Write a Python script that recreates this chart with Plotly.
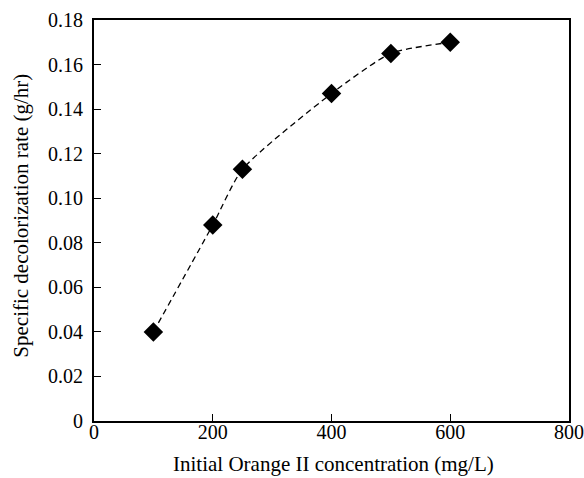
import plotly.graph_objects as go

concentration = [100, 200, 250, 400, 500, 600]
rate = [0.040, 0.088, 0.113, 0.147, 0.165, 0.170]

x_ticks = [0, 200, 400, 600, 800]
y_ticks = [0, 0.02, 0.04, 0.06, 0.08, 0.10, 0.12, 0.14, 0.16, 0.18]
y_ticktext = ["0", "0.02", "0.04", "0.06", "0.08", "0.10", "0.12", "0.14", "0.16", "0.18"]

x_title = "Initial Orange II concentration (mg/L)"
y_title = "Specific decolorization rate (g/hr)"

font_family = "Liberation Serif, Times New Roman, serif"

fig = go.Figure()
fig.add_trace(go.Scatter(
    x=concentration, y=rate, mode="lines+markers",
    line=dict(color="black", width=1.3, dash="6px,4px", shape="spline", smoothing=0.6),
    marker=dict(symbol="diamond", size=15, color="black"),
    showlegend=False,
))

axis_common = dict(
    showgrid=False, zeroline=False, showline=True, linecolor="black", linewidth=2,
    mirror=True, ticks="inside", ticklen=7, tickwidth=1, tickcolor="black",
    automargin=False,
    tickfont=dict(family=font_family, size=20, color="black"),
)

fig.update_layout(
    template="none",
    width=584, height=478,
    margin=dict(l=94, r=15, t=20, b=57),
    paper_bgcolor="white", plot_bgcolor="white",
    font=dict(family=font_family, color="black"),
    xaxis=dict(range=[0, 800], tickvals=x_ticks, ticklabelstandoff=-8, **axis_common),
    yaxis=dict(range=[0, 0.18], tickvals=y_ticks, ticktext=y_ticktext,
               ticklabelstandoff=5, **axis_common),
    annotations=[
        dict(text=x_title, xref="paper", yref="paper", x=0.505, y=-0.108,
             xanchor="center", yanchor="middle", showarrow=False,
             font=dict(family=font_family, size=21, color="black")),
        dict(text=y_title, xref="paper", yref="paper", x=-0.1537, y=0.512,
             xanchor="center", yanchor="middle", showarrow=False, textangle=-90,
             font=dict(family=font_family, size=21, color="black")),
    ],
)

fig.write_html("out.html", config={"displayModeBar": False},
               post_script="document.body.style.margin='0';document.body.style.overflow='hidden';")
